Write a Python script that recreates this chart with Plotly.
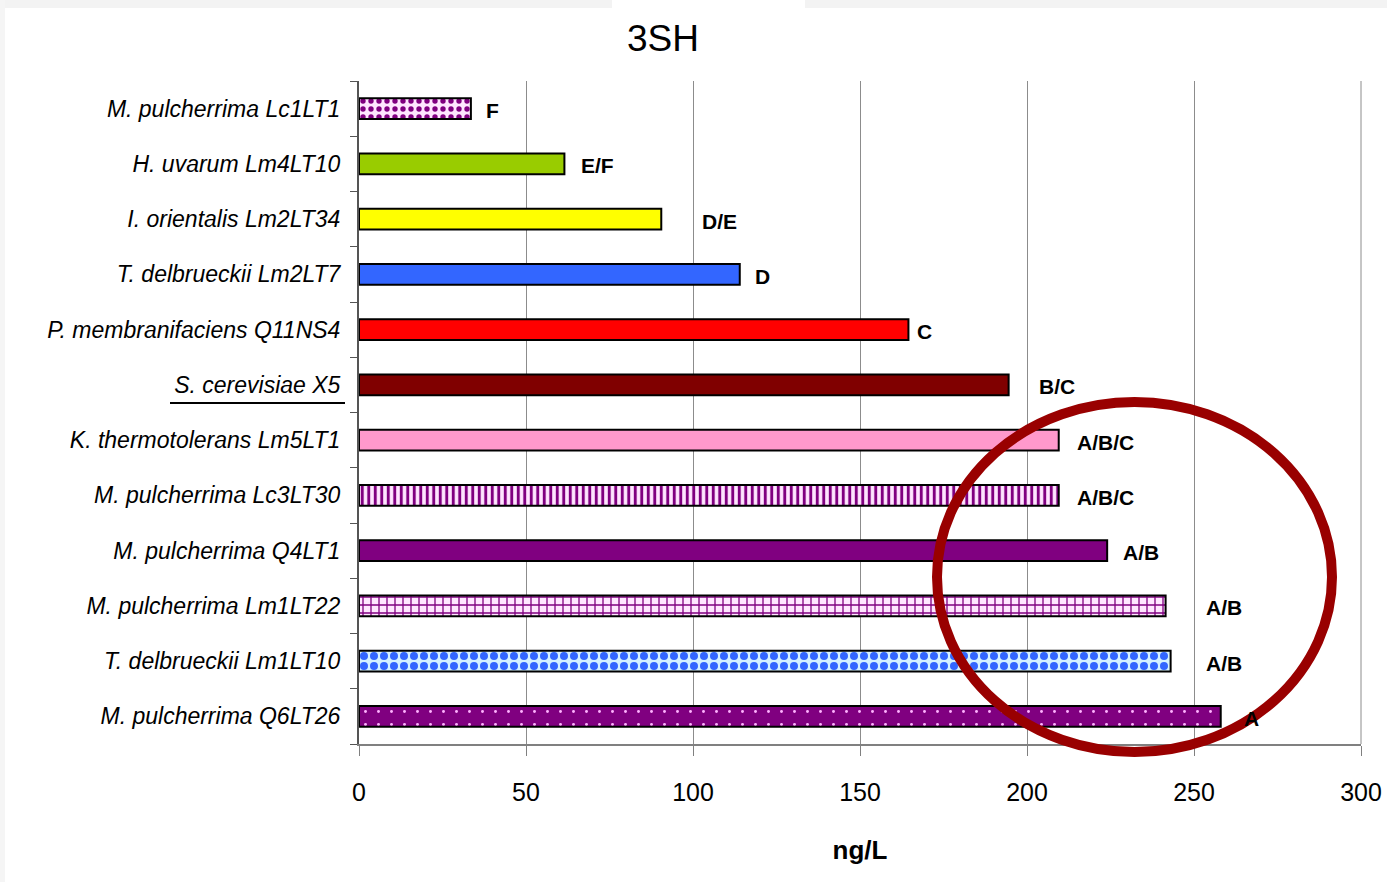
import plotly.graph_objects as go

categories = [
    "M. pulcherrima Lc1LT1",
    "H. uvarum Lm4LT10",
    "I. orientalis Lm2LT34",
    "T. delbrueckii Lm2LT7",
    "P. membranifaciens Q11NS4",
    "S. cerevisiae X5",
    "K. thermotolerans Lm5LT1",
    "M. pulcherrima Lc3LT30",
    "M. pulcherrima Q4LT1",
    "M. pulcherrima Lm1LT22",
    "T. delbrueckii Lm1LT10",
    "M. pulcherrima Q6LT26",
]
values = [33.5, 61.5, 90.5, 114, 164.5, 194.5, 209.5, 209.5, 224, 241.5, 243, 258]
letters = ["F", "E/F", "D/E", "D", "C", "B/C", "A/B/C", "A/B/C", "A/B", "A/B", "A/B", "A"]
letter_x = [37.5, 66, 102, 118, 166.5, 203, 214.5, 214.5, 228, 253, 253, 264.5]

bar_colors = ["#ffe6ff", "#99cc00", "#ffff00", "#3366ff", "#ff0000", "#800000",
              "#ff99cc", "#ffe6ff", "#800080", "#ffe6ff", "#d5f2ff", "#800080"]
pat_shape = [".", "", "", "", "", "", "", "|", "", "+", ".", "."]
pat_fg = ["#800080", "#000000", "#000000", "#000000", "#000000", "#000000",
          "#000000", "#800080", "#000000", "#800080", "#3366ff", "#ffb3ff"]
pat_size = [8, 8, 8, 8, 8, 8, 8, 6.5, 8, 8, 10, 13]
pat_sol = [0.35, 0.3, 0.3, 0.3, 0.3, 0.3, 0.3, 0.45, 0.3, 0.3, 0.5, 0.04]

FONT = "Liberation Sans, Arial, sans-serif"

ticktext = ["<i>" + c + "</i>" for c in categories]

fig = go.Figure()
for i, c in enumerate(categories):
    pattern = dict(shape=pat_shape[i], fillmode="overlay", fgcolor=pat_fg[i], fgopacity=1,
                   size=pat_size[i], solidity=pat_sol[i]) if pat_shape[i] else dict(shape="")
    fig.add_trace(go.Bar(
        y=[c], x=[values[i]], orientation="h", width=0.38,
        marker=dict(color=bar_colors[i], line=dict(color="#000000", width=2),
                    pattern=pattern),
        name=c, hoverinfo="x+y",
    ))

for c, t, lx in zip(categories, letters, letter_x):
    fig.add_annotation(x=lx, y=c, text="<b>" + t + "</b>", showarrow=False,
                       xanchor="left", yanchor="middle", yshift=-2,
                       font=dict(family=FONT, size=21, color="#000000"))

L, R, T, B = 359, 26, 81, 138
W, H = 1387, 882
pw, ph = W - L - R, H - T - B

def px(x):
    return (x - L) / pw

def py(y):
    return (H - B - y) / ph

shapes = [
    dict(type="rect", xref="paper", yref="paper", x0=px(0), x1=px(612), y0=py(8), y1=py(0),
         fillcolor="#f3f3f3", line=dict(width=0), layer="below"),
    dict(type="rect", xref="paper", yref="paper", x0=px(805), x1=px(W), y0=py(8), y1=py(0),
         fillcolor="#f3f3f3", line=dict(width=0), layer="below"),
    dict(type="rect", xref="paper", yref="paper", x0=px(0), x1=px(5), y0=py(H), y1=py(0),
         fillcolor="#f5f5f5", line=dict(width=0), layer="below"),
    dict(type="line", xref="paper", yref="paper", x0=px(170), x1=px(345), y0=py(403), y1=py(403),
         line=dict(color="#000000", width=2)),
    dict(type="line", xref="paper", yref="paper", x0=1, x1=1, y0=0, y1=1,
         line=dict(color="#8c8c8c", width=1)),
    dict(type="circle", xref="paper", yref="paper", x0=px(937), x1=px(1332), y0=py(752), y1=py(402),
         line=dict(color="#990000", width=10), layer="above"),
]

fig.update_layout(
    width=W, height=H,
    margin=dict(l=L, r=R, t=T, b=B, pad=0, autoexpand=False),
    paper_bgcolor="#ffffff", plot_bgcolor="#ffffff",
    showlegend=False,
    barmode="overlay",
    title=dict(text="3SH", x=663 / W, xanchor="center", y=1 - 38 / H, yanchor="middle",
               font=dict(family=FONT, size=37, color="#000000")),
    xaxis=dict(
        range=[0, 300], dtick=50, tick0=0, automargin=False,
        showgrid=True, gridcolor="#8c8c8c", gridwidth=1,
        showline=True, linecolor="#808080", linewidth=2,
        ticks="outside", ticklen=10, tickcolor="#808080", tickwidth=1,
        zeroline=False,
        tickfont=dict(family=FONT, size=25, color="#000000"),
        ticklabelstandoff=15,
        title=dict(text="<b>ng/L</b>", standoff=36,
                   font=dict(family=FONT, size=26, color="#000000")),
    ),
    yaxis=dict(
        categoryorder="array", categoryarray=categories,
        autorange="reversed", automargin=False,
        tickmode="array", tickvals=categories, ticktext=ticktext,
        tickson="boundaries",
        showline=True, linecolor="#555555", linewidth=2,
        ticks="outside", ticklen=7, tickcolor="#555555", tickwidth=1,
        showgrid=False,
        tickfont=dict(family=FONT, size=23, color="#000000"),
        ticklabelstandoff=12,
    ),
    shapes=shapes,
)

fig.write_html("out.html")
